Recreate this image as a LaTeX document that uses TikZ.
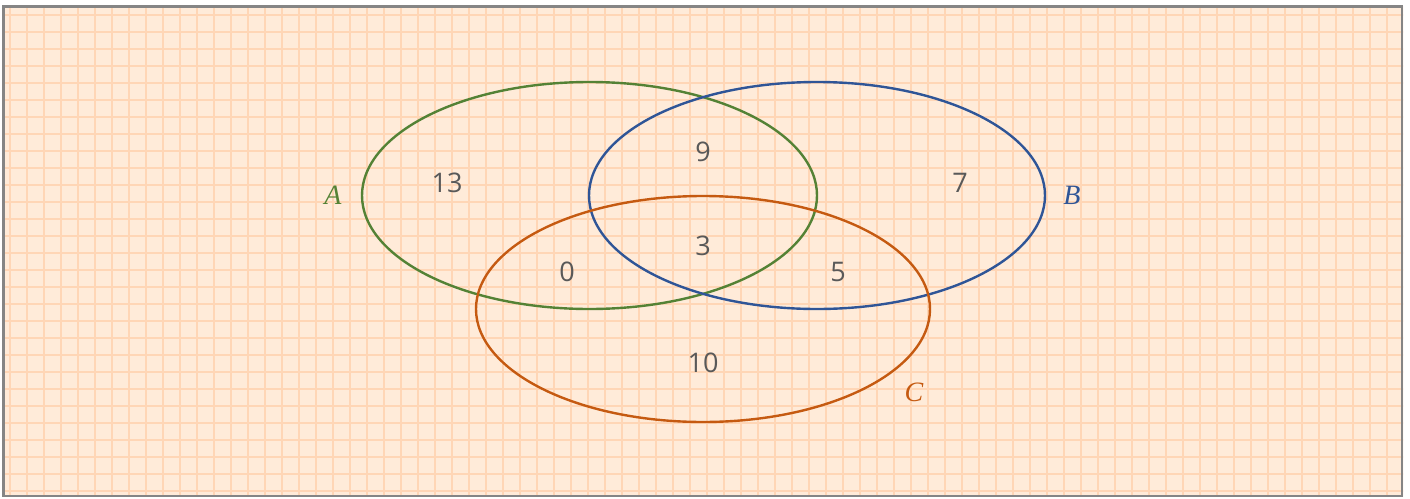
\documentclass[tikz,border=0pt]{standalone}
\usepackage{fontspec}
\newfontfamily\numfont{Open Sans}
\newfontfamily\labfont{Liberation Serif}
\definecolor{bgc}{HTML}{FFEBD9}
\definecolor{gridc}{HTML}{FFD6B6}
\definecolor{framec}{HTML}{858585}
\definecolor{agreen}{HTML}{548235}
\definecolor{bblue}{HTML}{2F5597}
\definecolor{corange}{HTML}{C55A11}
\definecolor{numc}{HTML}{595959}
\begin{document}
\begin{tikzpicture}[x=1pt,y=-1pt,
  setline/.style={line width=2.4pt},
  num/.style={text=numc,font=\numfont\fontsize{27}{30}\selectfont,inner sep=0pt},
  lab/.style={font=\labfont\itshape\fontsize{28}{30}\selectfont,inner sep=0pt}]
\useasboundingbox (0,0) rectangle (1410,498);
\fill[bgc] (3,6) rectangle (1403,496);
\begin{scope}
\clip (3,6) rectangle (1403,496);
\foreach \x in {10,27,...,1410} \draw[gridc,line width=1.6pt] (\x,0) -- (\x,498);
\foreach \y in {15,32,...,498} \draw[gridc,line width=1.6pt] (0,\y) -- (1410,\y);
\end{scope}
\draw[framec,line width=2.4pt] (3.3,6.3) rectangle (1402.2,495.8);
% sets
\draw[setline,agreen] (589.5,195.5) ellipse [x radius=227.5, y radius=113.5];
\draw[setline,bblue] (817,195.5) ellipse [x radius=228, y radius=113.5];
\draw[setline,corange] (703,309) ellipse [x radius=227, y radius=113];
% labels
\node[lab,text=agreen] (la) at (333,195) {A};
\node[lab,text=bblue] (lb) at (1072,195) {B};
\node[lab,text=corange] (lc) at (914,392) {C};
% numbers
\node[num] (n13) at (447,183) {13};
\node[num] (n9) at (703,152) {9};
\node[num] (n7) at (960,183) {7};
\node[num] (n3) at (703,246) {3};
\node[num] (n0) at (567,272) {0};
\node[num] (n5) at (838,272) {5};
\node[num] (n10) at (703,363) {10};
\end{tikzpicture}
\end{document}
